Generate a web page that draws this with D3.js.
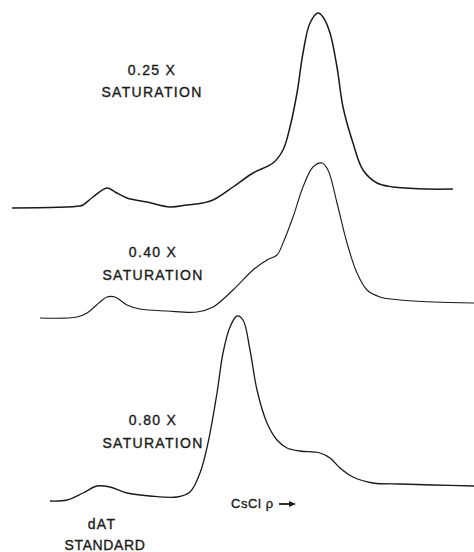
<!DOCTYPE html>
<html>
<head>
<meta charset="utf-8">
<script src="https://cdn.jsdelivr.net/npm/d3@7"></script>
<style>
  html, body { margin: 0; padding: 0; background: #fff; }
  svg { display: block; }
  text { font-family: "Liberation Sans", Arial, sans-serif; fill: #1a1a1a; stroke: #1a1a1a; stroke-width: 0.35; }
</style>
</head>
<body>
<svg id="chart" width="474" height="552"></svg>
<script>
// Gradient position (arbitrary units, left = light, right = dense)
const pos25 = [12,80,83,93,107,115,127,147,170,187,203,213,233,253,273,283,290,297,303,310,318,323,330,337,343,353,363,377,393,427,453];
const abs25 = [3.44,3.46,3.47,3.55,3.64,3.60,3.54,3.50,3.45,3.47,3.49,3.52,3.65,3.79,3.89,4.02,4.25,4.59,4.99,5.29,5.39,5.35,5.19,4.85,4.45,4.09,3.82,3.69,3.65,3.63,3.63];

const pos40 = [40,77,87,100,107,115,127,140,167,197,213,233,253,267,277,283,293,303,313,322,328,337,347,357,367,380,400,433,474];
const abs40 = [2.34,2.35,2.39,2.50,2.55,2.55,2.47,2.43,2.41,2.40,2.45,2.62,2.82,2.92,2.97,3.09,3.35,3.65,3.85,3.89,3.82,3.49,3.09,2.79,2.62,2.55,2.52,2.50,2.49];

const pos80 = [50,67,83,97,110,127,150,177,190,200,208,217,223,230,237,243,250,257,267,277,287,300,320,330,340,353,373,400,433,474];
const abs80 = [0.51,0.52,0.59,0.66,0.65,0.59,0.56,0.55,0.60,0.79,1.09,1.59,1.99,2.25,2.36,2.32,2.02,1.62,1.29,1.12,1.04,1.01,0.99,0.94,0.84,0.75,0.69,0.68,0.67,0.66];

const seriesNames = ["0.25 X", "0.40 X", "0.80 X"];
const seriesSub = "SATURATION";
const axisLabel = "CsCl ρ";
const standardLabel = ["dAT", "STANDARD"];

const W = 474, H = 552;
const x = d3.scaleLinear().domain([0, 474]).range([0, W]);
const y = d3.scaleLinear().domain([0, 5.52]).range([H, 0]);

const svg = d3.select("#chart");
const line = d3.line()
  .x(d => x(d[0]))
  .y(d => y(d[1]))
  .curve(d3.curveCatmullRom.alpha(0.5));

const traces = [
  { p: pos25, a: abs25, w: 1.5 },
  { p: pos40, a: abs40, w: 1.1 },
  { p: pos80, a: abs80, w: 1.3 }
];
traces.forEach(t => {
  svg.append("path")
    .datum(d3.zip(t.p, t.a))
    .attr("d", line)
    .attr("fill", "none")
    .attr("stroke", "#1a1a1a")
    .attr("stroke-width", t.w)
    .attr("stroke-linejoin", "round");
});

// Labels
const fs = 14;
const ls = 1.3;
const labelPos = [
  { cx: 152, y1: 75, y2: 97 },
  { cx: 153, y1: 257, y2: 280 },
  { cx: 153, y1: 425, y2: 448 }
];
seriesNames.forEach((n, i) => {
  const lp = labelPos[i];
  svg.append("text").attr("x", lp.cx).attr("y", lp.y1)
    .attr("text-anchor", "middle").attr("font-size", fs)
    .attr("letter-spacing", ls).text(n);
  svg.append("text").attr("x", lp.cx).attr("y", lp.y2)
    .attr("text-anchor", "middle").attr("font-size", fs)
    .attr("letter-spacing", ls).text(seriesSub);
});

// density axis label with arrow
svg.append("text").attr("x", 231).attr("y", 508)
  .attr("font-size", 13).attr("letter-spacing", 0.6).text(axisLabel);
svg.append("line").attr("x1", 279).attr("x2", 294).attr("y1", 504).attr("y2", 504)
  .attr("stroke", "#1a1a1a").attr("stroke-width", 1.8);
svg.append("path").attr("d", "M289,501 L296,504 L289,507 Z").attr("fill", "#1a1a1a");

// dAT standard label
svg.append("text").attr("x", 102).attr("y", 529)
  .attr("text-anchor", "middle").attr("font-size", fs).attr("letter-spacing", ls).text(standardLabel[0]);
svg.append("text").attr("x", 105).attr("y", 550)
  .attr("text-anchor", "middle").attr("font-size", fs).attr("letter-spacing", 0.6).text(standardLabel[1]);
</script>
</body>
</html>
